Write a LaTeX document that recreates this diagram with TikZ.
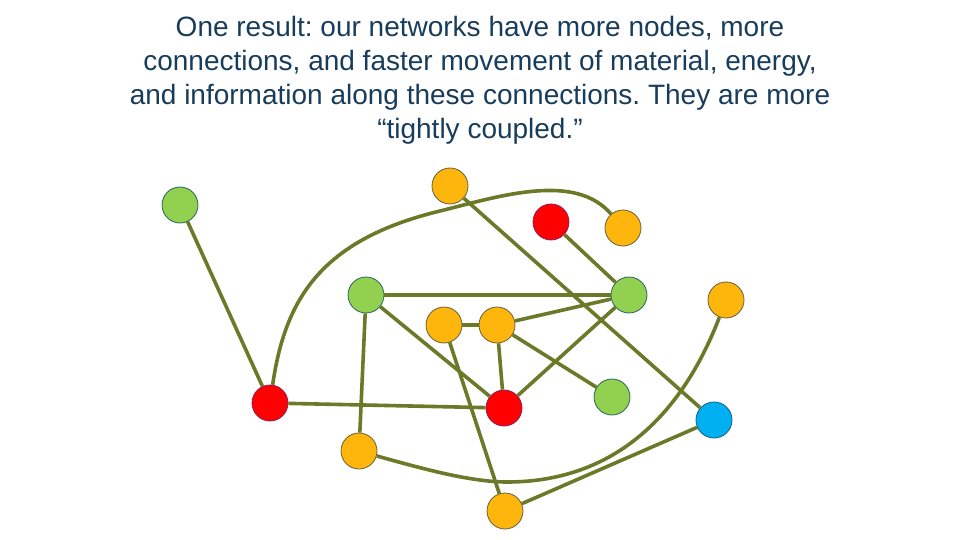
\documentclass[tikz,border=0pt]{standalone}
\usepackage{fontspec}
\setmainfont{Liberation Sans}
\frenchspacing
\definecolor{edgecol}{RGB}{107,122,40}
\definecolor{txtcol}{RGB}{24,60,92}
\definecolor{gfill}{RGB}{146,208,80}
\definecolor{gline}{RGB}{40,100,90}
\definecolor{ofill}{RGB}{255,182,12}
\definecolor{oline}{RGB}{100,95,60}
\definecolor{rfill}{RGB}{255,0,0}
\definecolor{rline}{RGB}{140,30,90}
\definecolor{bfill}{RGB}{0,176,240}
\definecolor{bline}{RGB}{20,90,140}
\tikzset{
  vtx/.style={circle, minimum size=36pt, inner sep=0pt, line width=0.8pt},
  gv/.style={vtx, fill=gfill, draw=gline},
  ov/.style={vtx, fill=ofill, draw=oline},
  rv/.style={vtx, fill=rfill, draw=rline},
  bv/.style={vtx, fill=bfill, draw=bline},
  link/.style={draw=edgecol, line width=3.6pt},
}
\begin{document}
\begin{tikzpicture}[x=1pt,y=-1pt]
\useasboundingbox (0,0) rectangle (960,540);
\node[text=txtcol, font=\fontsize{28}{34}\selectfont, align=center] (title) at (480,80)
 {One result: our networks have more nodes, more\\
  connections, and faster movement of material, energy,\\
  and information along these connections. They are more\\
  “tightly coupled.”};
\node[gv] (G1) at (180,205) {};
\node[ov] (O1) at (450,186) {};
\node[rv] (R1) at (551,222) {};
\node[ov] (O2) at (623,228) {};
\node[gv] (G2) at (366,295) {};
\node[gv] (G3) at (629,295) {};
\node[ov] (O3) at (726,300) {};
\node[ov] (O4) at (444,325) {};
\node[ov] (O5) at (497,325) {};
\node[rv] (R2) at (270,403) {};
\node[rv] (R3) at (504,408) {};
\node[gv] (G4) at (612,397) {};
\node[bv] (B1) at (714,420) {};
\node[ov] (O6) at (359,451) {};
\node[ov] (O7) at (505,511) {};
\begin{scope}[link]
\draw (G1) -- (R2);
\draw (R2) .. controls (285,300) and (320,240) .. (440,211)
           .. controls (500,196) and (575,172) .. (O2);
\draw (O1) -- (B1);
\draw (R1) -- (G3);
\draw (G2) -- (G3);
\draw (G2) -- (R3);
\draw (G2) -- (O6);
\draw (O4) -- (O5);
\draw (O5) -- (G3);
\draw (O5) -- (G4);
\draw (O5) -- (R3);
\draw (R3) -- (G3);
\draw (O4) -- (O7);
\draw (R2) -- (R3);
\draw (O6) .. controls (420,468) and (470,482) .. (507,482)
           .. controls (610,482) and (680,420) .. (O3);
\draw (O7) -- (B1);
\end{scope}
\end{tikzpicture}
\end{document}
